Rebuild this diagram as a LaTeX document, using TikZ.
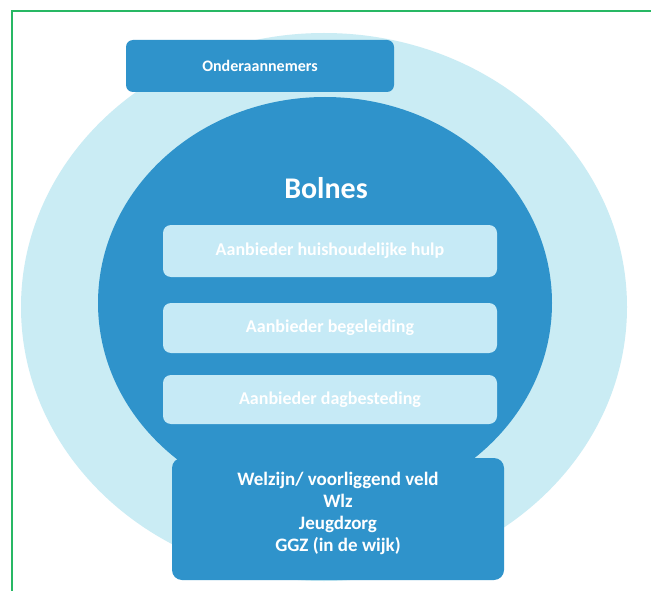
\documentclass[tikz,border=0pt]{standalone}
\usepackage{fontspec}
\setmainfont{Carlito}
\usetikzlibrary{shapes.geometric}
\definecolor{framegreen}{RGB}{40,184,100}
\definecolor{haloblue}{RGB}{202,236,244}
\definecolor{coreblue}{RGB}{47,147,203}
\definecolor{tileblue}{RGB}{198,234,246}
\tikzset{
  halo/.style={ellipse, fill=haloblue, inner sep=0pt},
  core/.style={ellipse, fill=coreblue, inner sep=0pt},
  darkbox/.style={rectangle, rounded corners=7pt, fill=coreblue, inner sep=0pt},
  label/.style={text=white, font=\bfseries, align=center, inner sep=0pt},
  tile/.style={rectangle, rounded corners=8pt, fill=tileblue, inner sep=0pt,
    minimum width=334pt, text=white, font=\bfseries\fontsize{18}{20}\selectfont},
}
\begin{document}
\begin{tikzpicture}[x=1pt,y=-1pt]
\useasboundingbox (0,0) rectangle (651,591);
\fill[white] (0,0) rectangle (651,591);

% frame, cut off at right and bottom
\draw[framegreen, line width=2pt] (12,600) -- (12,11) -- (660,11);

% outer halo and inner circle
\node[halo, minimum width=606pt, minimum height=548pt] (halo) at (324,307) {};
\node[core, minimum width=454pt, minimum height=412pt] (core) at (325,303) {};

% top box
\node[darkbox, minimum width=268pt, minimum height=52pt] (sub) at (260,66) {};
\node[label, font=\bfseries\fontsize{16}{18}\selectfont] (subtext) at (sub.center) {Onderaannemers};

% title
\node[label, font=\bfseries\fontsize{30}{34}\selectfont] (title) at (326,188) {Bolnes};

% provider tiles
\node[tile, minimum height=52pt] (t1) at (330,251) {Aanbieder huishoudelijke hulp};
\node[tile, minimum height=50pt] (t2) at (330,328) {Aanbieder begeleiding};
\node[tile, minimum height=49pt] (t3) at (330,399.5) {Aanbieder dagbesteding};

% bottom box
\node[darkbox, rounded corners=10pt, minimum width=332pt, minimum height=122pt] (base) at (338,519) {};
\node[label, font=\bfseries\fontsize{19}{22}\selectfont] (basetext) at (338,513)
  {Welzijn/ voorliggend veld\\Wlz\\Jeugdzorg\\GGZ (in de wijk)};
\end{tikzpicture}
\end{document}
